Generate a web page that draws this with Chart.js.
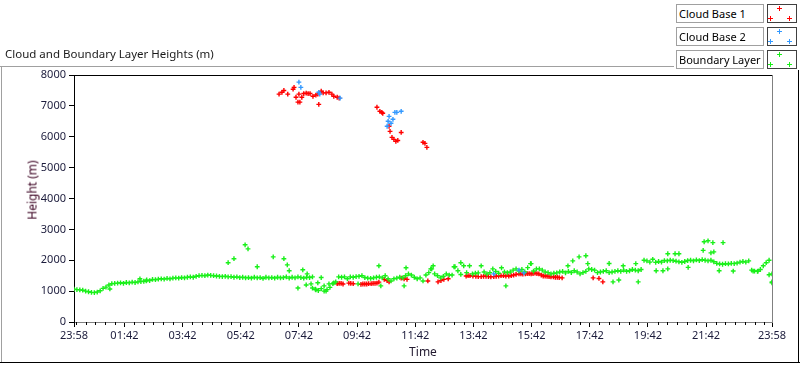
<!DOCTYPE html>
<html>
<head>
<meta charset="utf-8">
<script src="https://cdn.jsdelivr.net/npm/chart.js@4.4.1/dist/chart.umd.min.js"></script>
<style>
  body { margin: 0; background: #fff; }
  #wrap { position: relative; width: 800px; height: 365px; overflow: hidden; font-family: 'Noto Sans', sans-serif; }
  #c { position: absolute; left: 0; top: 0; }
  .title { position: absolute; left: 5px; top: 46px; font-size: 11.5px; color: #1a1a1a; white-space: nowrap; }
  .lg { position: absolute; left: 676px; width: 84px; height: 17px; border: 1px solid #a0a0a0; background: #fff;
        font-size: 11px; line-height: 17px; padding-left: 2px; color: #000; white-space: nowrap; }
  .ytitle { position: absolute; left: 32px; top: 190px; transform: translate(-50%, -50%) rotate(-90deg);
            font-size: 12px; color: #3a0020; white-space: nowrap; }
</style>
</head>
<body>
<div id="wrap">
  <canvas id="c" width="800" height="365"></canvas>
  <div class="title">Cloud and Boundary Layer Heights (m)</div>
  <div class="lg" style="top:4px">Cloud Base 1</div>
  <div class="lg" style="top:27px">Cloud Base 2</div>
  <div class="lg" style="top:50px">Boundary Layer</div>
  <div class="ytitle">Height (m)</div>
</div>
<script>
// x values are minutes after 23:58 (start of the 24 h window)
const tickMin = [0, 104, 224, 344, 464, 584, 704, 824, 944, 1064, 1184, 1304, 1440];
const tickLbl = ['23:58', '01:42', '03:42', '05:42', '07:42', '09:42', '11:42', '13:42', '15:42', '17:42', '19:42', '21:42', '23:58'];

// Boundary layer - main band (6 min samples)
const bl_t = [
  0, 6, 12, 18, 24, 30, 36, 42, 48, 54,
  60, 66, 72, 78, 84, 90, 96, 102, 108, 114,
  120, 126, 132, 138, 144, 150, 156, 162, 168, 174,
  180, 186, 192, 198, 204, 210, 216, 222, 228, 234,
  240, 246, 252, 258, 264, 270, 276, 282, 288, 294,
  300, 306, 312, 318, 324, 330, 336, 342, 348, 354,
  360, 366, 372, 378, 384, 390, 396, 402, 408, 414,
  420, 426, 432, 438, 444, 450, 456, 462, 468, 474,
  480, 486, 492, 498, 504, 510, 516, 522, 528, 534,
  540, 546, 552, 558, 564, 570, 576, 582, 588, 594,
  600, 606, 612, 618, 624, 630, 636, 642, 648, 654,
  660, 666, 672, 678, 684, 690, 696, 702, 708, 714,
  720, 726, 732, 738, 744, 750, 756, 762, 768, 774,
  780, 786, 792, 798, 804, 810, 816, 822, 828, 834,
  840, 846, 852, 858, 864, 870, 876, 882, 888, 894,
  900, 906, 912, 918, 924, 930, 936, 942, 948, 954,
  960, 966, 972, 978, 984, 990, 996, 1002, 1008, 1014,
  1020, 1026, 1032, 1038, 1044, 1050, 1056, 1062, 1068, 1074,
  1080, 1086, 1092, 1098, 1104, 1110, 1116, 1122, 1128, 1134,
  1140, 1146, 1152, 1158, 1164, 1170, 1176, 1182, 1188, 1194,
  1200, 1206, 1212, 1218, 1224, 1230, 1236, 1242, 1248, 1254,
  1260, 1266, 1272, 1278, 1284, 1290, 1296, 1302, 1308, 1314,
  1320, 1326, 1332, 1338, 1344, 1350, 1356, 1362, 1368, 1374,
  1380, 1386, 1392, 1398, 1404, 1410, 1416, 1422, 1428, 1434,
  1440
];
const bl_h = [
  1060, 1050, 1040, 1030, 1000, 980, 960, 950, 970, 1010,
  1090, 1130, 1200, 1240, 1250, 1260, 1270, 1250, 1280, 1270,
  1290, 1280, 1300, 1310, 1320, 1360, 1340, 1380, 1370, 1390,
  1400, 1390, 1410, 1400, 1420, 1430, 1420, 1440, 1430, 1450,
  1460, 1450, 1480, 1500, 1510, 1500, 1520, 1510, 1500, 1490,
  1480, 1470, 1480, 1460, 1470, 1450, 1460, 1440, 1450, 1430,
  1440, 1420, 1450, 1430, 1440, 1410, 1450, 1430, 1440, 1420,
  1450, 1430, 1440, 1460, 1420, 1450, 1430, 1460, 1440, 1420,
  1450, 1440, 1100, 1060, 1020, 1080, 1000, 1050, 1120, 1240,
  1300, 1460, 1450, 1460, 1400, 1460, 1450, 1470, 1480, 1500,
  1440, 1420, 1410, 1430, 1450, 1460, 1430, 1500, 1400, 1330,
  1400, 1420, 1450, 1430, 1500, 1560, 1520, 1450, 1400, 1430,
  1330, 1520, 1600, 1720, 1560, 1500, 1430, 1480, 1560, 1520,
  1520, 1790, 1660, 1540, 1820, 1600, 1820, 1560, 1580, 1590,
  1820, 1620, 1560, 1600, 1720, 1640, 1580, 1755, 1620, 1600,
  1620, 1680, 1720, 1650, 1700, 1620, 1760, 1890, 1650, 1720,
  1720, 1680, 1620, 1600, 1560, 1580, 1590, 1620, 1640, 1590,
  1640, 1600, 1660, 1620, 1560, 1600, 1640, 1720, 1700, 1680,
  1600, 1620, 1640, 1660, 1600, 1620, 1640, 1660, 1640, 1680,
  1640, 1660, 1700, 1680, 1660, 1700, 2000, 1980, 1940, 2030,
  1930, 1960, 1940, 1990, 1980, 2000, 1990, 1970, 1950, 1930,
  1960, 1990, 2000, 1980, 2010, 1990, 2020, 2000, 1980, 2000,
  1950, 1900, 1880, 1870, 1890, 1880, 1900, 1890, 1910, 1940,
  1960, 1940, 1980, 1680, 1650, 1640, 1700, 1820, 1920, 2000,
  1300
];

// Boundary layer - scattered returns
const blx_t = [74, 136, 149, 318, 330, 353, 359, 378, 411, 433, 440, 444, 462, 472, 479, 481, 489, 492, 499, 503, 510,
  516, 520, 526, 536, 586, 629, 633, 681, 685, 736, 741, 784, 798, 891, 943, 1019,
  1029, 1042, 1056, 1060, 1104, 1112, 1124, 1133, 1159, 1164,
  1201, 1215, 1225, 1225, 1240, 1248, 1267, 1298, 1300, 1308, 1318, 1314, 1320, 1339, 1331, 1360,
  1401, 1411, 1434, 1440, 1440];
const blx_h = [1070, 1400, 1330, 1920, 2050, 2500, 2370, 1790, 2110, 2050, 1850, 1660, 1100, 1690, 1200, 1560, 1235, 1460, 1040, 1270, 1440,
  1170, 1000, 1235, 1270, 1235, 1820, 1170, 1170, 1755, 1720, 1820, 1790, 1920, 1170, 1890, 1820,
  1980, 2110, 2145, 1890, 1895, 1300, 1360, 1820, 1890, 1300,
  1660, 1660, 2210, 1720, 2210, 2210, 1770, 2320, 2600, 2630, 2570, 2240, 2270, 2570, 1660, 1650,
  1650, 1650, 1530, 1560, 1270];

// Cloud base 1
const cb1_t = [
  423, 429, 433, 441, 452, 454, 458, 462, 464, 466, 470, 474, 479, 483, 487, 493, 499, 503, 505, 510,
  514, 520, 526, 532, 536, 543, 547,
  625, 631, 635, 637, 650, 652, 656, 660, 664, 668, 675, 720, 724, 728,
  543, 547, 551, 555, 567, 571, 576, 592, 596, 600, 604, 608, 613, 617, 621, 625, 629, 640, 646, 650,
  675, 681, 687, 730, 751, 757, 763, 772,
  809, 813, 817, 823, 829, 834, 840, 845, 850, 855, 860, 866, 871, 876, 881, 886, 891, 897, 902, 907,
  912, 918, 922, 926, 931, 935, 939, 943, 947, 951, 955, 959, 964, 968, 972, 976, 980, 984, 989, 993,
  997, 1001, 1007, 1071, 1083, 1091
];
const cb1_h = [
  7380, 7440, 7500, 7380, 7540, 7600, 7280, 7120, 7380, 7120, 7280, 7400, 7410, 7400, 7400, 7310, 7350, 7380, 7050, 7475,
  7420, 7420, 7440, 7380, 7310, 7280, 7250,
  6955, 6825, 6790, 6760, 6340, 6175, 5980, 5915, 5850, 5880, 6140, 5820, 5785, 5655,
  1240, 1250, 1250, 1230, 1260, 1250, 1240, 1220, 1230, 1230, 1230, 1240, 1240, 1250, 1250, 1260, 1290, 1380, 1340, 1300,
  1420, 1400, 1380, 1330, 1300, 1340, 1380, 1400,
  1490, 1500, 1500, 1490, 1480, 1470, 1470, 1480, 1480, 1470, 1460, 1470, 1480, 1490, 1500, 1500, 1490, 1490, 1500, 1520,
  1540, 1560, 1560, 1550, 1560, 1570, 1570, 1560, 1570, 1580, 1570, 1560, 1520, 1490, 1490, 1480, 1470, 1460, 1460, 1450,
  1450, 1440, 1430, 1430, 1410, 1300
];

// Cloud base 2
const cb2_t = [464, 468, 505, 507, 549, 646, 648, 650, 654, 658, 662, 666, 675, 866, 918, 928];
const cb2_h = [7770, 7600, 7440, 7380, 7250, 6340, 6500, 6660, 6435, 6565, 6790, 6790, 6825, 1560, 1680, 1590];

const colors = { cb1: '#ff0000', cb2: '#3399ff', bl: '#19f019' };

function pts(t, h) {
  return t.map((v, i) => ({ x: v, y: h[i] }));
}

// frame, minor ticks and legend samples
const decor = {
  id: 'decor',
  afterDraw(chart) {
    const ctx = chart.ctx;
    const a = chart.chartArea;
    const xs = chart.scales.x;
    ctx.save();
    ctx.lineWidth = 1;
    // outer frame
    ctx.strokeStyle = '#a0a0a0';
    ctx.beginPath();
    ctx.moveTo(0, 66.5); ctx.lineTo(674, 66.5);
    ctx.moveTo(1.5, 66); ctx.lineTo(1.5, 362);
    ctx.stroke();
    ctx.strokeStyle = '#000';
    ctx.beginPath();
    ctx.moveTo(0, 362.5); ctx.lineTo(800, 362.5);
    ctx.moveTo(798.5, 70); ctx.lineTo(798.5, 363);
    ctx.stroke();
    // plot frame top / right
    ctx.beginPath();
    ctx.moveTo(a.left, a.top + 0.5); ctx.lineTo(a.right, a.top + 0.5);
    ctx.stroke();
    ctx.strokeStyle = '#808080';
    ctx.beginPath();
    ctx.moveTo(a.right + 0.5, a.top); ctx.lineTo(a.right + 0.5, a.bottom);
    ctx.stroke();
    // minor ticks every 20 min
    ctx.strokeStyle = '#000';
    ctx.beginPath();
    for (let m = 4; m < 1440; m += 20) {
      if (tickMin.includes(m)) continue;
      const px = Math.round(xs.getPixelForValue(m)) + 0.5;
      ctx.moveTo(px, a.bottom); ctx.lineTo(px, a.bottom + 3);
    }
    ctx.stroke();
    // legend sample boxes
    const rows = [[4, colors.cb1], [27, colors.cb2], [50, colors.bl]];
    rows.forEach(([top, col]) => {
      ctx.fillStyle = '#fff';
      ctx.fillRect(767, top, 30, 19);
      ctx.strokeStyle = '#404040';
      ctx.strokeRect(767.5, top + 0.5, 29, 18);
      ctx.strokeStyle = col;
      ctx.beginPath();
      [[779, top + 4], [770, top + 14], [789, top + 14]].forEach(([x, y]) => {
        ctx.moveTo(x - 2, y + 0.5); ctx.lineTo(x + 3, y + 0.5);
        ctx.moveTo(x + 0.5, y - 2); ctx.lineTo(x + 0.5, y + 3);
      });
      ctx.stroke();
    });
    ctx.restore();
  }
};

const tickFont = { family: 'Noto Sans', size: 11 };
const mk = { pointStyle: 'cross', pointRadius: 2.4, borderWidth: 1.4, showLine: false };

new Chart(document.getElementById('c'), {
  type: 'scatter',
  data: {
    datasets: [
      Object.assign({ label: 'Boundary Layer', data: pts(bl_t, bl_h).concat(pts(blx_t, blx_h)),
        borderColor: colors.bl, backgroundColor: colors.bl, order: 2 }, mk),
      Object.assign({ label: 'Cloud Base 2', data: pts(cb2_t, cb2_h),
        borderColor: colors.cb2, backgroundColor: colors.cb2, order: 1 }, mk),
      Object.assign({ label: 'Cloud Base 1', data: pts(cb1_t, cb1_h),
        borderColor: colors.cb1, backgroundColor: colors.cb1, order: 3 }, mk)
    ]
  },
  options: {
    responsive: false,
    animation: false,
    devicePixelRatio: 1,
    layout: { padding: { top: 75, right: 28, left: 0, bottom: 0 } },
    plugins: { legend: { display: false }, tooltip: { enabled: false } },
    scales: {
      x: {
        type: 'linear', min: 0, max: 1440,
        afterFit: s => { s.height = 43; },
        afterBuildTicks: s => { s.ticks = tickMin.map(v => ({ value: v })); },
        ticks: { autoSkip: false, maxRotation: 0, padding: 2, color: '#1c1c3c', font: tickFont,
                 callback: (v, i) => tickLbl[i] },
        grid: { drawOnChartArea: false, tickLength: 5, tickColor: '#000' },
        border: { color: '#808080' },
        title: { display: true, text: 'Time', color: '#221a30', font: { family: 'Noto Sans', size: 12 },
                 padding: { top: 0, bottom: 5 } }
      },
      y: {
        min: 0, max: 8000,
        afterFit: s => { s.width = 74; },
        ticks: { stepSize: 1000, padding: 3, color: '#1c1c3c', font: tickFont, callback: v => String(v) },
        grid: { drawOnChartArea: false, tickLength: 5, tickColor: '#000' },
        border: { color: '#000' }
      }
    }
  },
  plugins: [decor]
});
</script>
</body>
</html>
